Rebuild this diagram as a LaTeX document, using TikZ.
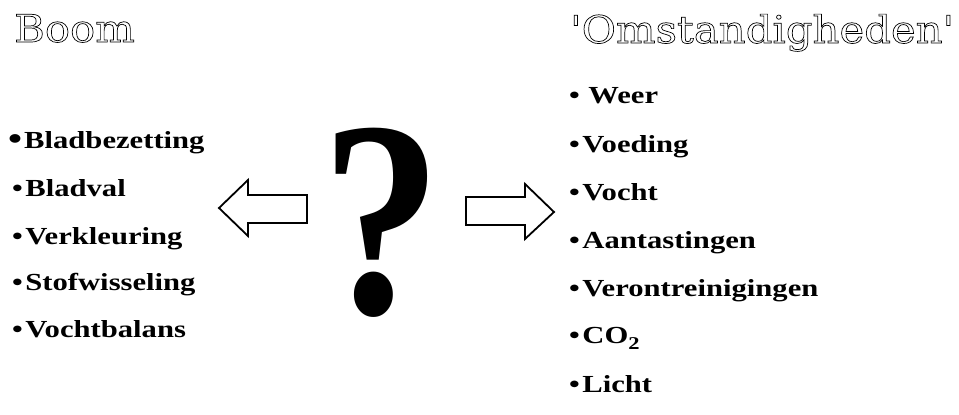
\documentclass[tikz,border=0pt]{standalone}
\usepackage{fontspec}
\setmainfont{Liberation Serif}[FakeStretch=1.25]
\newfontfamily\titlefont{DejaVu Serif}[FakeStretch=1.1]
\newfontfamily\qfont{Liberation Serif}
\newcommand{\bul}{\textbullet\hspace{2.5pt}}
\newcommand{\bigbul}{{\fontsize{32}{32}\selectfont\raisebox{-1.5pt}{\textbullet}}\hspace{2pt}}
\newcommand{\outlinetext}[1]{\special{pdf:literal direct 1 Tr 0.7 w}#1\special{pdf:literal direct 0 Tr}}
\begin{document}
\begin{tikzpicture}[x=1pt,y=-1pt,
  item/.style={anchor=base west,inner sep=0pt,font=\fontsize{24.5}{28}\selectfont\bfseries},
  ttl/.style={anchor=base west,inner sep=0pt,font=\fontsize{38}{40}\selectfont\titlefont},
  blockarrow/.style={draw=black,line width=1.8pt,line join=miter,fill=white}]
\useasboundingbox (0,0) rectangle (959,415);
\node[ttl] (boom) at (14,42) {\outlinetext{Boom}};
\node[ttl] (omst) at (570,43) {\outlinetext{'Omstandigheden'}};
\node[item] (l1) at (8,148) {\bigbul Bladbezetting};
\node[item] (l2) at (12,196) {\bul Bladval};
\node[item] (l3) at (12,244) {\bul Verkleuring};
\node[item] (l4) at (12,290) {\bul Stofwisseling};
\node[item] (l5) at (12,337) {\bul Vochtbalans};
\node[item] (r1) at (569,103) {\bul\hspace{6pt}Weer};
\node[item] (r2) at (569,152) {\bul Voeding};
\node[item] (r3) at (569,200) {\bul Vocht};
\node[item] (r4) at (569,248) {\bul Aantastingen};
\node[item] (r5) at (569,296) {\bul Verontreinigingen};
\node[item] (r6) at (569,343) {\bul CO\raisebox{-6pt}{\fontsize{18}{18}\selectfont 2}};
\node[item] (r7) at (569,392) {\bul Licht};
\node[anchor=base,inner sep=0pt,xscale=0.86,font=\fontsize{280}{280}\selectfont\qfont\bfseries] (q) at (382,313) {?};
\draw[blockarrow] (219,208) -- (248,180) -- (248,195) -- (307,195) -- (307,223) -- (248,223) -- (248,236) -- cycle;
\draw[blockarrow] (466,197) -- (525,197) -- (525,184) -- (554,212) -- (525,239) -- (525,225) -- (466,225) -- cycle;
\end{tikzpicture}
\end{document}
